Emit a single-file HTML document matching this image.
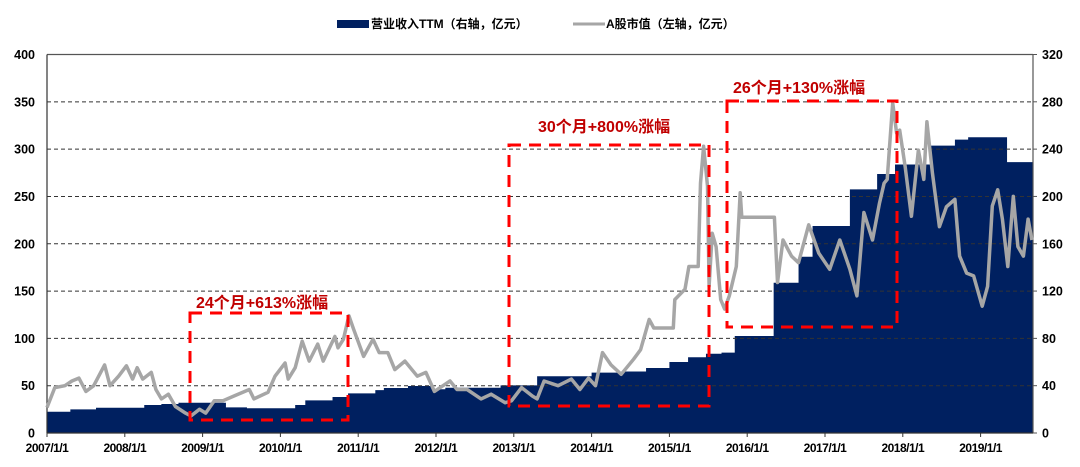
<!DOCTYPE html>
<html><head><meta charset="utf-8"><style>
html,body{margin:0;padding:0;background:#fff;}
svg{display:block;font-family:"Liberation Sans","Noto Sans CJK SC",sans-serif;}
</style></head><body>
<svg id="c" width="1080" height="467" viewBox="0 0 1080 467"></svg>
<script>
const revStarts=[2007.0,2007.3,2007.63,2008.25,2008.47,2008.69,2009.3,2009.57,2010.19,2010.32,2010.67,2010.87,2011.22,2011.33,2011.64,2011.95,2012.12,2012.83,2013.3,2014.0,2014.4,2014.7,2015.0,2015.24,2015.47,2015.67,2015.84,2016.34,2016.66,2016.84,2017.32,2017.67,2017.9,2018.36,2018.67,2018.84,2019.34];
const revValues=[18,20,21.4,23.7,24.5,25.6,21.7,20.9,23.7,27.6,30.4,33.5,36.3,38,39.7,37,38.3,40.3,48,51,52,55,60,64,67,68,82,127,149,175,206,219,227,243,248,250,229];
const mcapDates=[2007.0,2007.1,2007.23,2007.32,2007.41,2007.5,2007.6,2007.74,2007.81,2007.92,2008.02,2008.1,2008.16,2008.23,2008.34,2008.4,2008.47,2008.56,2008.65,2008.78,2008.85,2008.96,2009.04,2009.15,2009.26,2009.4,2009.6,2009.66,2009.84,2009.93,2010.06,2010.1,2010.19,2010.28,2010.37,2010.48,2010.55,2010.7,2010.74,2010.81,2010.88,2010.94,2011.07,2011.19,2011.27,2011.38,2011.47,2011.6,2011.76,2011.87,2011.98,2012.09,2012.18,2012.27,2012.4,2012.58,2012.71,2012.89,2012.97,2013.1,2013.24,2013.3,2013.39,2013.57,2013.74,2013.85,2013.96,2014.05,2014.14,2014.25,2014.38,2014.54,2014.63,2014.74,2014.8,2015.05,2015.07,2015.2,2015.25,2015.37,2015.4,2015.44,2015.49,2015.51,2015.55,2015.6,2015.66,2015.71,2015.77,2015.86,2015.91,2015.93,2016.35,2016.39,2016.46,2016.57,2016.66,2016.79,2016.92,2017.06,2017.19,2017.32,2017.41,2017.5,2017.61,2017.7,2017.76,2017.8,2017.87,2017.92,2017.96,2018.03,2018.11,2018.2,2018.27,2018.31,2018.38,2018.47,2018.56,2018.67,2018.73,2018.82,2018.91,2019.02,2019.09,2019.15,2019.22,2019.28,2019.35,2019.42,2019.48,2019.55,2019.61,2019.66];
const mcapValues=[27,48,50,55,58,44,50,72,50,60,71,57,69,57,64,46,36,41,28,21,18,25,21,34,34,39,46,36,43,60,74,57,69,97,76,94,76,102,90,99,124,110,81,99,85,85,67,76,60,64,44,50,55,46,46,36,41,32,34,48,39,36,55,50,57,46,58,50,85,72,62,78,88,120,111,111,141,152,176,176,264,303,261,155,211,197,141,131,145,176,254,228,228,159,204,187,180,220,190,173,204,173,145,233,204,243,264,268,349,317,320,282,229,299,268,329,275,218,239,247,187,169,166,134,155,240,257,226,176,250,197,187,226,204];
const leftTicks=[0,50,100,150,200,250,300,350,400];
const rightTicks=[0,40,80,120,160,200,240,280,320];
const xTickYears=[2007,2008,2009,2010,2011,2012,2013,2014,2015,2016,2017,2018,2019];

const NS='http://www.w3.org/2000/svg';
const svg=document.getElementById('c');
const X0=47,X1=1033,Y0=433,Y1=54.5,YEAR0=2007,PXY=77.8;
const xs=t=>X0+(t-YEAR0)*PXY;
const yL=v=>Y0-(v/400)*(Y0-Y1);
const yR=v=>Y0-(v/320)*(Y0-Y1);
function mk(tag,attrs,parent){const e=document.createElementNS(NS,tag);for(const k in attrs)e.setAttribute(k,attrs[k]);(parent||svg).appendChild(e);return e;}

let d='M'+xs(revStarts[0])+','+Y0;
for(let i=0;i<revStarts.length;i++){const xa=xs(revStarts[i]);const xb=i+1<revStarts.length?xs(revStarts[i+1]):X1;d+=' L'+xa+','+yR(revValues[i])+' L'+xb+','+yR(revValues[i]);}
d+=' L'+X1+','+Y0+' Z';
const area=mk('path',{d:d,fill:'#002060'});



leftTicks.forEach(v=>{
  if(v>0&&v<400){const g=mk('line',{x1:X0,x2:X1,y1:yL(v),y2:yL(v),stroke:'#333','stroke-width':1,'stroke-dasharray':'4,3'});
  
  }
  const t=mk('text',{x:35,y:yL(v)+4.5,'text-anchor':'end','font-size':12.5,'font-weight':'bold',fill:'#000'});t.textContent=v;
  
  
});
rightTicks.forEach(v=>{
  const t=mk('text',{x:1042,y:yR(v)+4.5,'font-size':12.5,'font-weight':'bold',fill:'#000'});t.textContent=v;
  
  
  mk('line',{x1:X1,x2:X1+4,y1:yR(v),y2:yR(v),stroke:'#555'});
});
mk('line',{x1:X0,x2:X1,y1:Y1,y2:Y1,stroke:'#555','stroke-width':1.2});
mk('line',{x1:X0,x2:X0,y1:Y1,y2:Y0,stroke:'#333','stroke-width':1.2});
mk('line',{x1:X1,x2:X1,y1:Y1,y2:Y0,stroke:'#555','stroke-width':1.2});
mk('line',{x1:X0,x2:X1,y1:Y0,y2:Y0,stroke:'#333','stroke-width':1.2});
xTickYears.forEach(yr=>{
  const x=xs(yr);mk('line',{x1:x,x2:x,y1:Y0,y2:Y0+4,stroke:'#333'});
  const t=mk('text',{x:x,y:452,'text-anchor':'middle','font-size':12,'font-weight':'bold',fill:'#000','letter-spacing':'-0.5'});t.textContent=yr+'/1/1';
  
  
});

const pts=mcapDates.map((t,i)=>xs(t).toFixed(1)+','+yL(mcapValues[i]).toFixed(1)).join(' ');
const ln=mk('polyline',{points:pts,fill:'none',stroke:'#a6a6a6','stroke-width':3.5,'stroke-linejoin':'round'});



const boxes=[[190,313,348,420,'24个月+613%涨幅',196,308],[509,145,709,406,'30个月+800%涨幅',538,132],[727,101,897,327,'26个月+130%涨幅',733,93]];
boxes.forEach((b,i)=>{
  const r=mk('rect',{x:b[0],y:b[1],width:b[2]-b[0],height:b[3]-b[1],fill:'none',stroke:'#ff0000','stroke-width':3,'stroke-dasharray':'12,8'});
  
  
  const t=mk('text',{x:b[5],y:b[6],'font-size':16,'font-weight':'bold',fill:'#c00000'});t.textContent=b[4];
  
  
});

const lg=mk('g',{});


mk('rect',{x:337,y:20,width:32,height:8,fill:'#002060'},lg);
const t1=mk('text',{x:371,y:28,'font-size':12,'font-weight':'bold',fill:'#000'},lg);t1.textContent='营业收入TTM（右轴，亿元）';


mk('line',{x1:573,x2:605,y1:24,y2:24,stroke:'#a6a6a6','stroke-width':3},lg);
const t2=mk('text',{x:606,y:28,'font-size':12,'font-weight':'bold',fill:'#000'},lg);t2.textContent='A股市值（左轴，亿元）';


</script>
</body></html>
